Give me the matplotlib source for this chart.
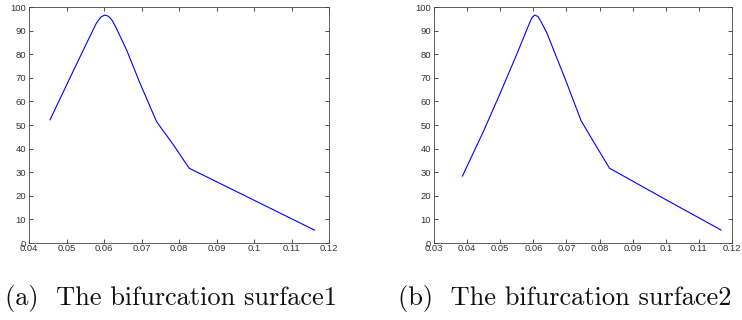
import numpy as np
import matplotlib
matplotlib.use('Agg')
import matplotlib.pyplot as plt
from matplotlib.ticker import FuncFormatter, MultipleLocator

# Data.
x1 = [0.0456, 0.0500, 0.0550, 0.0580, 0.0592, 0.0602, 0.0612, 0.0622,
      0.0632, 0.0660, 0.0696, 0.0740, 0.0785, 0.0827, 0.0998, 0.1161]
y1 = [52.2, 66.9, 83.5, 93.3, 95.8, 96.6, 96.1, 94.3,
      91.3, 81.9, 67.7, 51.5, 41.6, 31.7, 18.3, 5.5]

x2 = [0.0386, 0.0450, 0.0500, 0.0550, 0.0585, 0.0595, 0.0604, 0.0614,
      0.0624, 0.0641, 0.0701, 0.0744, 0.0788, 0.0830, 0.1000, 0.1167]
y2 = [28.4, 47.5, 63.5, 80.0, 92.0, 95.3, 96.6, 96.0,
      93.6, 89.0, 67.8, 51.9, 41.5, 31.7, 18.4, 5.5]

xlims = [(0.04, 0.12), (0.03, 0.12)]
captions = ['(a)  The bifurcation surface1', '(b)  The bifurcation surface2']

fig = plt.figure(figsize=(7.42, 3.2), dpi=100)
boxes = [[0.0391, 0.2406, 0.4043, 0.7374],
         [0.5849, 0.2406, 0.4016, 0.7374]]
cap_x = [0.2298, 0.7608]

fmt = FuncFormatter(lambda v, pos: '%g' % round(v, 4))
for box, (xs, ys), lim, cap, cx in zip(boxes, [(x1, y1), (x2, y2)],
                                       xlims, captions, cap_x):
    ax = fig.add_axes(box)
    ax.plot(xs, ys, color='#0000ff', lw=0.8)
    ax.set_xlim(*lim)
    ax.set_ylim(0, 100)
    ax.xaxis.set_major_locator(MultipleLocator(0.01))
    ax.yaxis.set_major_locator(MultipleLocator(10))
    ax.xaxis.set_major_formatter(fmt)
    ax.yaxis.set_major_formatter(fmt)
    ax.tick_params(direction='in', length=3, width=0.6, top=True, right=True,
                   labelsize=6.8, colors='#333333',
                   labelfontfamily='Liberation Sans')
    ax.tick_params(axis='x', pad=1)
    ax.tick_params(axis='y', pad=2)
    for s in ax.spines.values():
        s.set_linewidth(0.6)
        s.set_color('#444444')
    fig.text(cx, 0.047, cap, ha='center', va='baseline',
             family='cmr10', fontsize=19, color='#111111')

fig.savefig('out.png', dpi=100)
